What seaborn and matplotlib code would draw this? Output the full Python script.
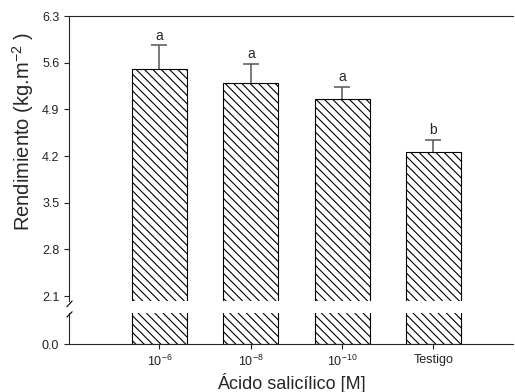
import numpy as np
import matplotlib.pyplot as plt
import seaborn as sns
from matplotlib.ticker import FormatStrFormatter

sns.set_style('ticks')
plt.rcParams['font.family'] = ['Liberation Sans', 'DejaVu Sans']
plt.rcParams['mathtext.fontset'] = 'custom'
plt.rcParams['mathtext.rm'] = 'Liberation Sans'
plt.rcParams['mathtext.it'] = 'Liberation Sans:italic'
plt.rcParams['mathtext.bf'] = 'Liberation Sans:bold'
plt.rcParams['hatch.linewidth'] = 0.8

# datos
tratamientos = ['10$^{-6}$', '10$^{-8}$', '10$^{-10}$', 'Testigo']
rendimiento = [5.50, 5.29, 5.06, 4.26]
error = [0.36, 0.29, 0.18, 0.18]
letras = ['a', 'a', 'a', 'b']
yticks_sup = [2.1, 2.8, 3.5, 4.2, 4.9, 5.6, 6.3]

fig = plt.figure(figsize=(5.15, 3.92), dpi=100)
ax1 = fig.add_axes([0.134, 0.232, 0.862, 0.727])   # parte alta
ax2 = fig.add_axes([0.134, 0.1224, 0.862, 0.079])  # parte baja (0)

for ax in (ax1, ax2):
    sns.barplot(x=tratamientos, y=rendimiento, ax=ax, color='white',
                edgecolor='black', linewidth=0.8, hatch='\\\\\\\\', width=0.6,
                saturation=1, errorbar=None)
    ax.set_xlim(-0.99, 3.87)
    ax.spines['right'].set_visible(False)
    ax.tick_params(direction='out', length=3.5, width=0.8, colors='#222222',
                   labelsize=9)
    ax.yaxis.set_major_formatter(FormatStrFormatter('%.1f'))
    ax.set_ylabel('')

# barras de error solo hacia arriba
eb = ax1.errorbar(np.arange(len(rendimiento)), rendimiento,
                  yerr=[np.zeros(len(error)), error], fmt='none',
                  ecolor='#555555', elinewidth=1.1, capsize=5.5, capthick=1.1)
eb[1][0].set_visible(False)  # sin tapa abajo
for i, l in enumerate(letras):
    ax1.annotate(l, (i, rendimiento[i] + error[i]), xytext=(0, 2),
                 textcoords='offset points', ha='center', va='bottom',
                 fontsize=10)

ax1.set_ylim(2.025, 6.3)
ax1.set_yticks(yticks_sup)
ax1.spines['bottom'].set_visible(False)
ax1.tick_params(axis='x', bottom=False, labelbottom=False)

ax2.set_ylim(0, 0.45)
ax2.set_yticks([0])
ax2.spines['top'].set_visible(False)
ax2.set_xlabel('Ácido salicílico [M]', fontsize=13, labelpad=3)

# marcas de corte del eje
kw = dict(color='black', lw=0.8, clip_on=False)
ax1.plot([-0.005, 0.007], [-0.02, 0.0], transform=ax1.transAxes, **kw)
ax2.plot([-0.005, 0.007], [0.87, 1.04], transform=ax2.transAxes, **kw)

fig.text(0.045, 0.663, 'Rendimiento (kg.m$^{-2}$ )', rotation=90,
         ha='center', va='center', fontsize=14.5)

fig.savefig('out.png', dpi=100)
